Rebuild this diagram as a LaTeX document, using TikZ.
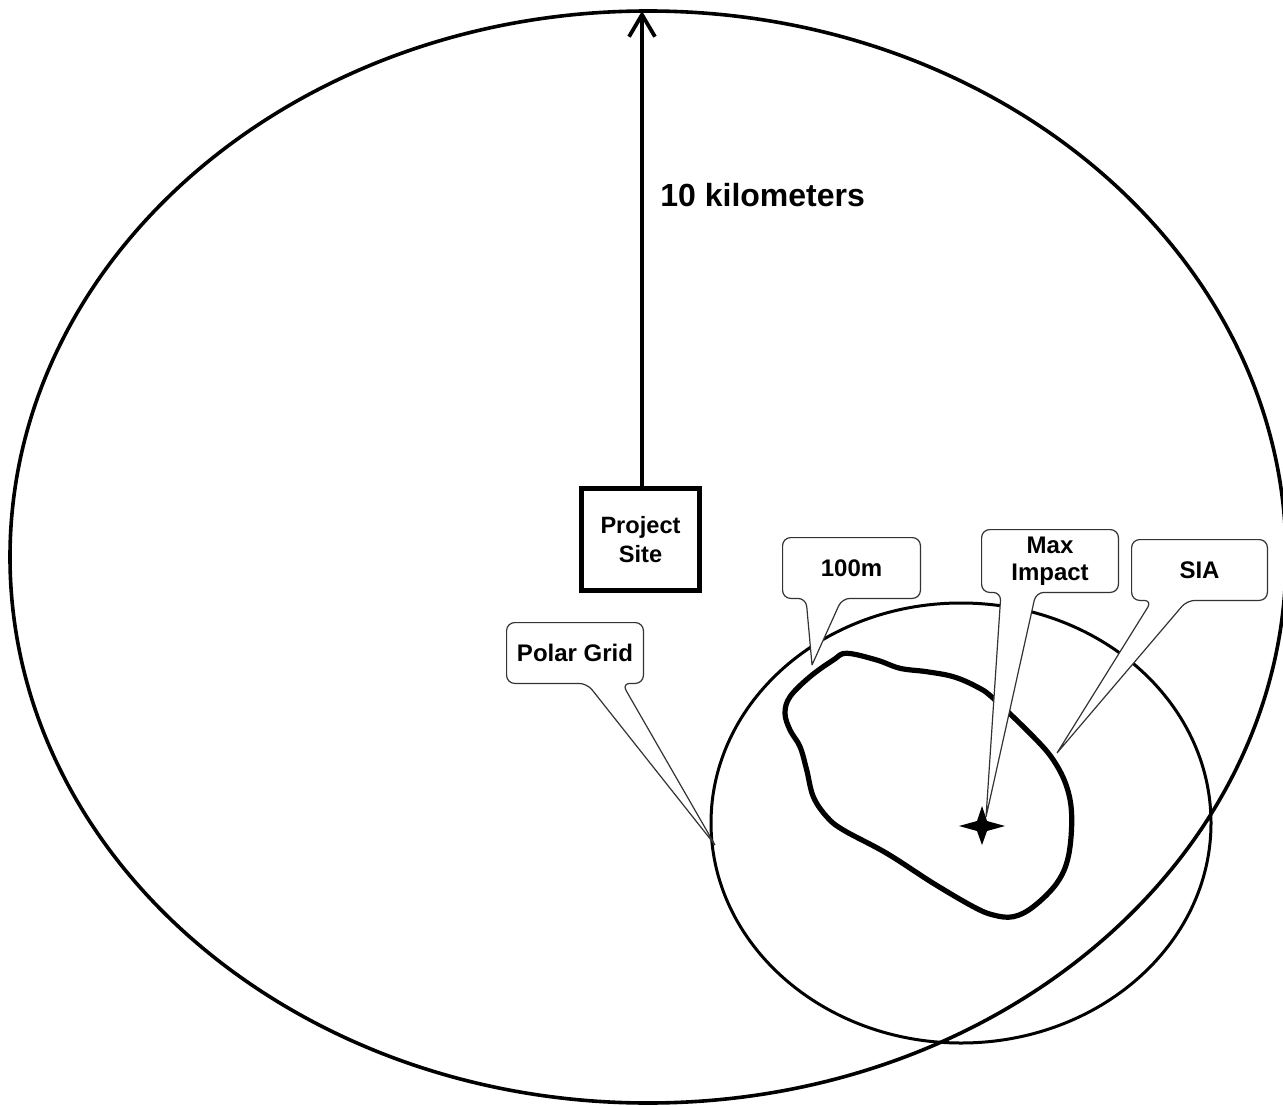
\documentclass[tikz,border=0pt]{standalone}
\usepackage{fontspec}
\setmainfont{Liberation Sans}
\usetikzlibrary{arrows.meta,calc}
\begin{document}
\begin{tikzpicture}[x=0.5pt,y=-0.5pt]
\tikzset{
  callbox/.style={inner sep=0pt, align=center, font=\fontsize{12}{13.5}\selectfont\bfseries, minimum height=30pt},
  callline/.style={draw=black!80, fill=white, line width=0.6pt, rounded corners=4pt, line join=round},
  bigring/.style={line width=1.8pt},
  gridring/.style={line width=1.5pt},
  contour/.style={line width=2.6pt, line join=round},
}
\useasboundingbox (0,0) rectangle (1283,1106);
% 10 km radius ellipse
\draw[bigring] (648,557) ellipse [x radius=638, y radius=546];
% polar grid circle
\draw[gridring] (961,823) ellipse [x radius=250, y radius=220];
% 100 m contour
\draw[contour] plot[smooth cycle, tension=0.6] coordinates {
 (846.7,653.3) (876.7,660) (900,668.3) (926.7,671.7) (953.3,676.7) (976.7,686.7) (993.3,698.3)
 (1033.3,736.7) (1053.3,760) (1066.7,786.7) (1071.7,816.7) (1068.3,856.7) (1056.7,883.3)
 (1033.3,906.7) (1013.3,916.7) (993.3,915) (973.3,906.7) (933.3,883.3) (886.7,853.3)
 (843.3,830) (826.7,816.7) (813.3,796.7) (806.7,770) (800,746.7) (790,730) (785,713.3)
 (790,696.7) (810,676.7) (833.3,660)};

% project site
\node[draw, line width=2.5pt, minimum width=59pt, minimum height=51pt, inner sep=0pt, align=center,
      font=\fontsize{11.8}{14.5}\selectfont\bfseries] (ps) at (640.5,539.5) {Project\\Site};
\coordinate (top) at (642,11);
\draw[line width=1.6pt, -{Straight Barb[length=11pt,width=13pt,line width=1.9pt]}] (ps.north -| top) -- (top);
\node[anchor=base west, font=\fontsize{16}{19}\selectfont\bfseries, inner sep=0pt] (km) at (660,207) {10 kilometers};

% callout boxes (text)
\node[callbox, minimum width=68pt] (pg) at (575,653) {Polar Grid};
\node[callbox, minimum width=68.5pt] (hm) at (851.5,568) {100m};
\node[callbox, minimum width=68pt, minimum height=31pt] (mi) at (1050,561) {Max\\Impact};
\node[callbox, minimum width=67.5pt] (sia) at (1199.5,570) {SIA};

% pointer tips and base points
\coordinate (pgT) at (715,845);  \coordinate (pgL) at (587,0);  \coordinate (pgR) at (622,0);
\coordinate (hmT) at (812,665);  \coordinate (hmL) at (806,0);  \coordinate (hmR) at (842,0);
\coordinate (miT) at (986,817);  \coordinate (miL) at (1001,0); \coordinate (miR) at (1036,0);
\coordinate (siaT) at (1057,753); \coordinate (siaL) at (1152,0); \coordinate (siaR) at (1187,0);

\foreach \n in {pg,hm,mi,sia}{
  \draw[callline] (\n T) -- (\n R |- \n.south) -- (\n.south east) -- (\n.north east)
     -- (\n.north west) -- (\n.south west) -- (\n L |- \n.south) -- (\n T);
}
% redraw text above fills
\node[callbox, minimum width=68pt] at (pg) {Polar Grid};
\node[callbox, minimum width=68.5pt] at (hm) {100m};
\node[callbox, minimum width=68pt, minimum height=31pt] at (mi) {Max\\Impact};
\node[callbox, minimum width=67.5pt] at (sia) {SIA};

% max impact star
\coordinate (star) at (982,826);
\fill (star) ++(23,0) -- ++(-18,-5) -- ++(-5,-15) -- ++(-5,15) -- ++(-18,5)
  -- ++(18,5) -- ++(5,14) -- ++(5,-14) -- cycle;
\end{tikzpicture}
\end{document}
